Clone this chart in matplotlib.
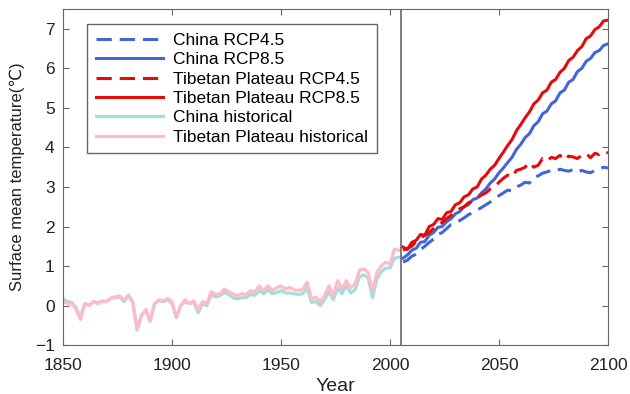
import numpy as np
import matplotlib.pyplot as plt

plt.rcParams['font.family'] = ['Liberation Sans', 'DejaVu Sans']

# historical, every 2 years 1850-2004
hist_years = np.arange(1850, 2006, 2)
tp_hist = [0.1, 0.05, 0.05, -0.1, -0.35, 0.05, 0.0, 0.1, 0.05, 0.12,
           0.1, 0.2, 0.22, 0.25, 0.15, 0.27, 0.1, -0.6, -0.25, -0.1,
           -0.4, 0.05, 0.15, 0.12, 0.18, 0.1, -0.3, 0.0, 0.15, 0.05,
           0.12, -0.1, 0.1, 0.05, 0.35, 0.28, 0.3, 0.42, 0.35, 0.3,
           0.25, 0.3, 0.28, 0.38, 0.34, 0.5, 0.38, 0.5, 0.38, 0.45,
           0.5, 0.42, 0.46, 0.4, 0.38, 0.42, 0.59, 0.17, 0.21, 0.1,
           0.25, 0.5, 0.25, 0.63, 0.42, 0.63, 0.45, 0.55, 0.9, 0.93,
           0.84, 0.38, 0.84, 1.0, 1.1, 1.05, 1.43, 1.4]
china_hist = [0.18, 0.1, 0.08, -0.05, -0.3, 0.05, 0.02, 0.1, 0.08, 0.1,
              0.1, 0.18, 0.2, 0.22, 0.1, 0.25, 0.08, -0.62, -0.25, -0.12,
              -0.38, 0.05, 0.12, 0.1, 0.15, 0.05, -0.3, 0.0, 0.1, 0.05,
              0.08, -0.18, 0.05, 0.0, 0.28, 0.22, 0.25, 0.33, 0.28, 0.2,
              0.17, 0.2, 0.2, 0.28, 0.26, 0.38, 0.3, 0.4, 0.3, 0.33,
              0.38, 0.32, 0.32, 0.3, 0.28, 0.3, 0.45, 0.08, 0.1, 0.0,
              0.15, 0.35, 0.15, 0.45, 0.3, 0.5, 0.32, 0.4, 0.72, 0.78,
              0.7, 0.2, 0.68, 0.85, 0.95, 0.95, 1.2, 1.22]

# projections, every 2 years 2006-2100
proj_years = np.arange(2006, 2101, 2)
tp_rcp85 = [1.48, 1.42, 1.6, 1.65, 1.8, 1.78, 2.0, 2.05, 2.2, 2.18,
            2.35, 2.38, 2.55, 2.6, 2.75, 2.8, 2.95, 3.0, 3.2, 3.3,
            3.45, 3.55, 3.72, 3.88, 4.05, 4.2, 4.42, 4.58, 4.75, 4.9,
            5.1, 5.2, 5.38, 5.45, 5.65, 5.72, 5.9, 6.0, 6.2, 6.28,
            6.45, 6.55, 6.75, 6.82, 6.98, 7.05, 7.2, 7.22]
china_rcp85 = [1.2, 1.28, 1.4, 1.45, 1.6, 1.62, 1.78, 1.85, 1.98, 2.0,
               2.12, 2.2, 2.32, 2.38, 2.5, 2.55, 2.68, 2.72, 2.85, 2.95,
               3.1, 3.2, 3.36, 3.48, 3.62, 3.75, 3.95, 4.08, 4.25, 4.35,
               4.55, 4.65, 4.85, 4.92, 5.1, 5.18, 5.38, 5.45, 5.65, 5.72,
               5.92, 6.0, 6.18, 6.25, 6.4, 6.45, 6.58, 6.62]
tp_rcp45 = [1.4, 1.45, 1.5, 1.62, 1.7, 1.78, 1.85, 1.95, 2.05, 2.1,
            2.2, 2.28, 2.35, 2.45, 2.5, 2.6, 2.65, 2.72, 2.8, 2.85,
            2.95, 3.0, 3.12, 3.22, 3.3, 3.25, 3.42, 3.45, 3.5, 3.62,
            3.5, 3.55, 3.72, 3.65, 3.75, 3.72, 3.8, 3.68, 3.78, 3.76,
            3.72, 3.8, 3.85, 3.74, 3.85, 3.82, 3.9, 3.86]
china_rcp45 = [1.1, 1.15, 1.25, 1.3, 1.42, 1.5, 1.6, 1.68, 1.8, 1.85,
               1.95, 2.05, 2.1, 2.15, 2.22, 2.3, 2.35, 2.42, 2.48, 2.55,
               2.62, 2.7, 2.78, 2.85, 2.92, 2.9, 3.0, 3.05, 3.12, 3.1,
               3.25, 3.28, 3.35, 3.38, 3.42, 3.4, 3.45, 3.42, 3.4, 3.44,
               3.38, 3.42, 3.38, 3.36, 3.42, 3.45, 3.5, 3.48]

blue = '#3f66dc'
red = '#e60b0b'
cyan = '#a6dcdc'
pink = '#ffbcc8'
gray = '#666666'

fig = plt.figure(figsize=(6.3, 3.94), dpi=100)
ax = fig.add_axes([0.1, 0.124, 0.865, 0.853])

dash = (0, (5, 2.6))
ax.plot(proj_years, china_rcp45, color=blue, lw=2.2, linestyle=dash, label='China RCP4.5')
ax.plot(proj_years, china_rcp85, color=blue, lw=2.2, label='China RCP8.5')
ax.plot(proj_years, tp_rcp45, color=red, lw=2.2, linestyle=dash, label='Tibetan Plateau RCP4.5')
ax.plot(proj_years, tp_rcp85, color=red, lw=2.2, label='Tibetan Plateau RCP8.5')
ax.plot(hist_years, china_hist, color=cyan, lw=2.3, label='China historical')
ax.plot(hist_years, tp_hist, color=pink, lw=2.3, label='Tibetan Plateau historical')

ax.axvline(2005, color=gray, lw=1.2)

ax.set_xlim(1850, 2100)
ax.set_ylim(-1, 7.5)
ax.set_xticks([1850, 1900, 1950, 2000, 2050, 2100])
ax.set_yticks(range(-1, 8))
ax.tick_params(direction='in', top=True, right=True, labelsize=12.5,
               colors=gray, labelcolor='#222222', length=4)
ax.tick_params(axis='x', pad=9)
ax.tick_params(axis='y', pad=6)
for s in ax.spines.values():
    s.set_color(gray)
ax.set_xlabel('Year', fontsize=14, color='#222222', labelpad=4)
ax.set_ylabel('Surface mean temperature(℃)', fontsize=12, color='#222222',
              labelpad=7)

leg = ax.legend(loc='upper left', bbox_to_anchor=(0.044, 0.955), fontsize=12.5,
                handlelength=3.9, handletextpad=0.55, labelspacing=0.24,
                borderpad=0.5, borderaxespad=0, fancybox=False, framealpha=1)
leg.get_frame().set_edgecolor(gray)
leg.get_frame().set_linewidth(1)

fig.savefig('out.png', dpi=100)
